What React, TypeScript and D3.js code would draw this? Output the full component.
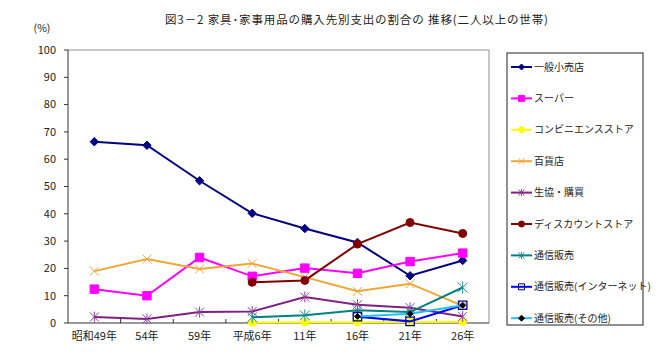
import React from 'react';
import * as d3 from 'd3';

const categories = ['昭和49年', '54年', '59年', '平成6年', '11年', '16年', '21年', '26年'];
const yTicks = [0, 10, 20, 30, 40, 50, 60, 70, 80, 90, 100];

const seriesNames = [
  '一般小売店',
  'スーパー',
  'コンビニエンスストア',
  '百貨店',
  '生協・購買',
  'ディスカウントストア',
  '通信販売',
  '通信販売(インターネット)',
  '通信販売(その他)',
];

type V = number | null;
const generalStore: V[] = [66.4, 65.1, 52.1, 40.2, 34.6, 29.5, 17.3, 22.9];
const supermarket: V[] = [12.4, 10.0, 24.0, 17.1, 20.1, 18.2, 22.5, 25.6];
const convenience: V[] = [null, null, null, 0.2, 0.3, 0.3, 0.4, 0.5];
const deptStore: V[] = [19.0, 23.4, 19.8, 21.8, 16.8, 11.6, 14.4, 6.3];
const coop: V[] = [2.2, 1.5, 4.0, 4.2, 9.5, 6.7, 5.6, 2.4];
const discount: V[] = [null, null, null, 14.9, 15.6, 28.9, 36.8, 32.8];
const mailOrder: V[] = [null, null, null, 2.1, 2.8, 4.7, 4.0, 13.0];
const internet: V[] = [null, null, null, null, null, 2.3, 0.6, 6.5];
const otherMail: V[] = [null, null, null, null, null, 2.4, 3.4, 6.5];

const seriesValues = [generalStore, supermarket, convenience, deptStore, coop, discount, mailOrder, internet, otherMail];

type Style = { line: string; marker: string; fill: string; stroke: string; size: number };
const styles: Style[] = [
  { line: '#000080', marker: 'diamond', fill: '#000080', stroke: '#000080', size: 4.2 },
  { line: '#FF00FF', marker: 'square', fill: '#FF00FF', stroke: '#FF00FF', size: 4.2 },
  { line: '#FFFF00', marker: 'circle', fill: '#FFFF00', stroke: '#FFFF00', size: 3.8 },
  { line: '#F0A535', marker: 'x', fill: 'none', stroke: '#F0A535', size: 4.5 },
  { line: '#802080', marker: 'star', fill: 'none', stroke: '#9040A0', size: 4.5 },
  { line: '#800000', marker: 'circle', fill: '#800000', stroke: '#800000', size: 4 },
  { line: '#008080', marker: 'star', fill: 'none', stroke: '#209090', size: 5 },
  { line: '#0000FF', marker: 'opensquare', fill: 'none', stroke: '#000080', size: 4.2 },
  { line: '#20C0F0', marker: 'diamond', fill: '#000000', stroke: '#000000', size: 3 },
];

function markerPath(kind: string, s: number): string {
  switch (kind) {
    case 'diamond':
      return `M0,${-s}L${s},0L0,${s}L${-s},0Z`;
    case 'square':
    case 'opensquare':
      return `M${-s},${-s}H${s}V${s}H${-s}Z`;
    case 'circle':
      return d3.symbol(d3.symbolCircle, Math.PI * s * s)() || '';
    case 'x':
      return `M${-s},${-s}L${s},${s}M${s},${-s}L${-s},${s}`;
    case 'star':
      return `M${-s},${-s}L${s},${s}M${s},${-s}L${-s},${s}M0,${-s * 1.2}V${s * 1.2}`;
    default:
      return '';
  }
}

const FONT = '"Noto Sans CJK JP", "Noto Sans", sans-serif';

export default function App() {
  const W = 660;
  const H = 354;
  const left = 68;
  const right = 489;
  const top = 50;
  const bottom = 323;

  const x = d3.scaleBand<string>().domain(categories).range([left, right]).padding(0);
  const y = d3.scaleLinear().domain([0, 100]).range([bottom, top]);
  const cx = (c: string) => (x(c) as number) + x.bandwidth() / 2;

  const line = d3
    .line<{ c: string; v: V }>()
    .defined((d) => d.v !== null)
    .x((d) => cx(d.c))
    .y((d) => y(d.v as number));

  const legendX = 507;
  const legendY = 53;
  const legendW = 136;
  const legendH = 272;
  const legendStart = 67;
  const legendStep = 31.4;

  return (
    <svg width={W} height={H} style={{ position: 'absolute', left: 0, top: 0, background: '#fff' }} fontFamily={FONT}>
      <rect x={0} y={0} width={W} height={H} fill="#fff" />
      <text x={165} y={24} fontSize={11.5} fill="#222" textLength={383} lengthAdjust="spacing">
        図3－2 家具･家事用品の購入先別支出の割合の 推移(二人以上の世帯)
      </text>
      <text x={42} y={32} textAnchor="middle" fontSize={10.5} fill="#222">
        (%)
      </text>

      {/* plot border */}
      <path d={`M${left},${top}H${right}V${bottom}`} fill="none" stroke="#909090" strokeWidth={1} />

      {/* y axis */}
      <line x1={left} x2={left} y1={top} y2={bottom} stroke="#333" />
      {yTicks.map((t) => (
        <g key={t}>
          <line x1={left - 4} x2={left} y1={y(t)} y2={y(t)} stroke="#333" />
          <text x={56} y={y(t)} dy="0.35em" textAnchor="end" fontSize={11} fill="#222">
            {t}
          </text>
        </g>
      ))}

      {/* x axis */}
      <line x1={left} x2={right} y1={bottom} y2={bottom} stroke="#333" />
      {categories.slice(1).map((c) => (
        <line key={c} x1={x(c) as number} x2={x(c) as number} y1={bottom - 4} y2={bottom} stroke="#333" />
      ))}
      {categories.map((c) => (
        <text key={c} x={cx(c)} y={340} textAnchor="middle" fontSize={11} fill="#222">
          {c}
        </text>
      ))}

      {/* series */}
      {seriesValues.map((vals, i) => {
        const st = styles[i];
        const data = categories.map((c, j) => ({ c, v: vals[j] }));
        return (
          <g key={seriesNames[i]}>
            <path d={line(data) || ''} fill="none" stroke={st.line} strokeWidth={2} />
            {data
              .filter((d) => d.v !== null)
              .map((d) => (
                <path
                  key={d.c}
                  transform={`translate(${cx(d.c)},${y(d.v as number)})`}
                  d={markerPath(st.marker, st.size)}
                  fill={st.fill}
                  stroke={st.stroke}
                  strokeWidth={st.marker === 'opensquare' ? 1.3 : 1}
                />
              ))}
          </g>
        );
      })}

      {/* legend */}
      <rect x={legendX} y={legendY} width={legendW} height={legendH} fill="#fff" stroke="#222" strokeWidth={1} />
      {seriesNames.map((name, i) => {
        const st = styles[i];
        const ly = legendStart + i * legendStep;
        return (
          <g key={name}>
            <line x1={511} x2={532} y1={ly} y2={ly} stroke={st.line} strokeWidth={2} />
            <path
              transform={`translate(521.5,${ly})`}
              d={markerPath(st.marker, Math.min(st.size, 3))}
              fill={st.fill}
              stroke={st.stroke}
              strokeWidth={1}
            />
            <text x={534} y={ly} dy="0.35em" fontSize={10} fill="#222">
              {name}
            </text>
          </g>
        );
      })}
    </svg>
  );
}
